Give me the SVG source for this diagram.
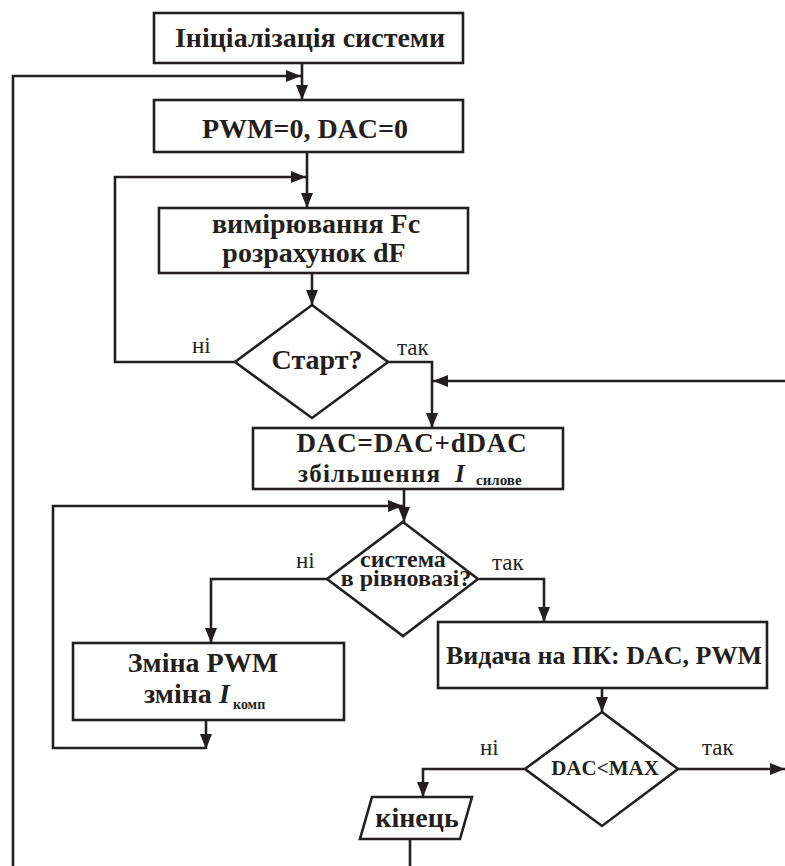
<svg xmlns="http://www.w3.org/2000/svg" width="785" height="866" viewBox="0 0 785 866">
<style>
  .shape { fill: #ffffff; stroke: #231f20; stroke-width: 2.6; }
  .conn { fill: none; stroke: #231f20; stroke-width: 2.6; }
  .t { font-weight: bold; fill: #231f20; }
  .c { text-anchor: middle; }
  .lbl { font-size: 23px; fill: #231f20; }
  .it { font-style: italic; }
</style>
<defs>
  <marker id="arr" markerUnits="userSpaceOnUse" markerWidth="16" markerHeight="12" refX="15" refY="6" orient="auto">
    <path d="M0,0 L15,6 L0,12 z" fill="#231f20"/>
  </marker>
</defs>
<rect width="785" height="866" fill="#ffffff"/>

<g id="connectors">
  <path class="conn" d="M302,63 V100" marker-end="url(#arr)"/>
  <path class="conn" d="M13,866 V76 H301" marker-end="url(#arr)"/>
  <path class="conn" d="M307,152 V208" marker-end="url(#arr)"/>
  <path class="conn" d="M235,362 H115 V177 H306" marker-end="url(#arr)"/>
  <path class="conn" d="M312,273 V305" marker-end="url(#arr)"/>
  <path class="conn" d="M388,362 H432 V428" marker-end="url(#arr)"/>
  <path class="conn" d="M785,381 H433" marker-end="url(#arr)"/>
  <path class="conn" d="M404,489 V522" marker-end="url(#arr)"/>
  <path class="conn" d="M327,579 H211 V643" marker-end="url(#arr)"/>
  <path class="conn" d="M479,579 H544 V622" marker-end="url(#arr)"/>
  <path class="conn" d="M206,720 V749" marker-end="url(#arr)"/>
  <path class="conn" d="M206,748 H53 V506 H403" marker-end="url(#arr)"/>
  <path class="conn" d="M602,688 V712" marker-end="url(#arr)"/>
  <path class="conn" d="M678,769 H785" marker-end="url(#arr)"/>
  <path class="conn" d="M525,769 H423 V797" marker-end="url(#arr)"/>
  <path class="conn" d="M410,839 V866"/>
</g>

<g font-family="Liberation Serif, serif">
<g id="n-init">
  <rect class="shape" x="154" y="13" width="309" height="50"/>
  <text class="t c" x="310" y="47" font-size="28">Ініціалізація системи</text>
</g>

<g id="n-reset">
  <rect class="shape" x="154" y="100" width="309" height="52"/>
  <text class="t c" x="305" y="138" font-size="28">PWM=0, DAC=0</text>
</g>

<g id="n-measure">
  <rect class="shape" x="159" y="208" width="309" height="65"/>
  <text class="t c" x="316" y="233" font-size="28">вимірювання Fc</text>
  <text class="t c" x="314" y="262" font-size="28">розрахунок dF</text>
</g>

<g id="n-start">
  <polygon class="shape" points="312,305 388,362 312,418 235,362"/>
  <text class="t c" x="317" y="369" font-size="28">Старт?</text>
  <text class="lbl" x="192" y="353">ні</text>
  <text class="lbl" x="397" y="355">так</text>
</g>

<g id="n-dac">
  <rect class="shape" x="253" y="428" width="310" height="61"/>
  <text class="t c" x="412" y="452" font-size="27" letter-spacing="0.8">DAC=DAC+dDAC</text>
  <text class="t" y="482" font-size="25"><tspan x="298" letter-spacing="1.2">збільшення</tspan><tspan class="it" x="455">I</tspan><tspan x="476" y="485" font-size="15">силове</tspan></text>
</g>

<g id="n-balance">
  <polygon class="shape" points="403,522 478,579 403,636 327,579"/>
  <text class="t c" x="403" y="567" font-size="24">система</text>
  <text class="t c" x="406" y="586" font-size="24">в рівновазі?</text>
  <text class="lbl" x="296" y="568">ні</text>
  <text class="lbl" x="492" y="570">так</text>
</g>

<g id="n-pwm">
  <rect class="shape" x="73" y="643" width="271" height="77"/>
  <text class="t c" x="203" y="672" font-size="28">Зміна PWM</text>
  <text class="t" y="703" font-size="28"><tspan x="144">зміна</tspan><tspan class="it" x="219">I</tspan><tspan x="233" y="709" font-size="14">комп</tspan></text>
</g>

<g id="n-output">
  <rect class="shape" x="438" y="622" width="329" height="66"/>
  <text class="t c" x="604" y="664" font-size="26">Видача на ПК: DAC, PWM</text>
</g>

<g id="n-max">
  <polygon class="shape" points="602,712 678,769 602,826 525,769"/>
  <text class="t c" x="605" y="775" font-size="21">DAC&lt;MAX</text>
  <text class="lbl" x="480" y="755">ні</text>
  <text class="lbl" x="702" y="755">так</text>
</g>

<g id="n-end">
  <polygon class="shape" points="372,797 472,797 460,839 360,839"/>
  <text class="t c" x="417" y="827" font-size="28">кінець</text>
</g>
</g>
</svg>
